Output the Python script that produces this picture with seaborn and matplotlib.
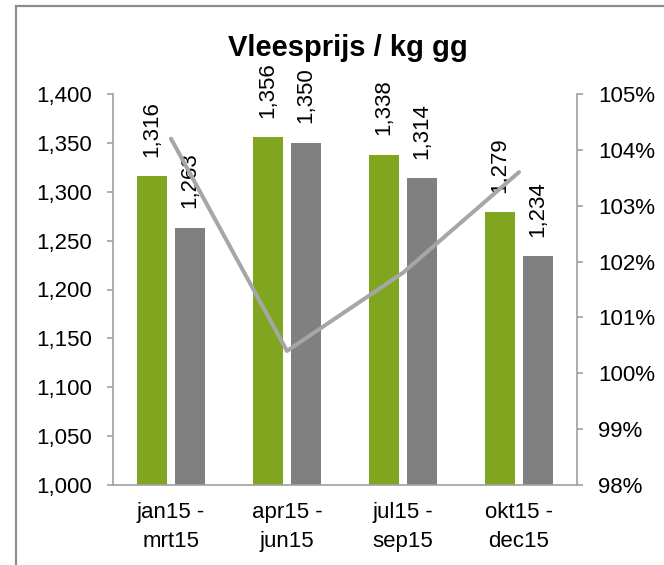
import matplotlib
matplotlib.use("Agg")
import matplotlib.pyplot as plt
import matplotlib.ticker as mticker
from matplotlib.patches import Rectangle
import pandas as pd
import seaborn as sns

# data
periods = ["jan15 -\nmrt15", "apr15 -\njun15", "jul15 -\nsep15", "okt15 -\ndec15"]
series_names = ["A", "B"]
green_values = [1316, 1356, 1338, 1279]
gray_values = [1263, 1350, 1314, 1234]
ratio_pct = [104.2, 100.4, 101.8, 103.6]

GREEN = "#80A51F"
GRAY = "#808080"
LINE = "#A6A6A6"
AXIS = "#A0A0A0"
FS = 16

sns.set_style("white")
plt.rcParams["font.family"] = ["Liberation Sans", "DejaVu Sans"]
plt.rcParams["text.color"] = "black"
plt.rcParams["xtick.color"] = "black"
plt.rcParams["ytick.color"] = "black"

df = pd.DataFrame({
    "period": periods * 2,
    "series": [series_names[0]] * 4 + [series_names[1]] * 4,
    "value": green_values + gray_values,
})

fig = plt.figure(figsize=(6.64, 5.65), dpi=100)
ax = fig.add_axes([113 / 664, 1 - 485 / 565, 464 / 664, 391 / 565])

sns.barplot(data=df, x="period", y="value", hue="series", order=periods,
            palette=[GREEN, GRAY], saturation=1, width=0.656, gap=0.2,
            legend=False, ax=ax, linewidth=0)

for cont in ax.containers:
    ax.bar_label(cont, labels=[f"{v.get_height():,.0f}" for v in cont],
                 rotation=90, padding=14, fontsize=FS)

ax.set_ylim(1000, 1400)
ax.set_xlim(-0.5, 3.5)
ax.set_yticks(range(1000, 1401, 50))
ax.yaxis.set_major_formatter(mticker.FuncFormatter(lambda v, p: f"{v:,.0f}"))
ax.set_xlabel("")
ax.set_ylabel("")
ax.set_xticks(range(4))
ax.set_xticklabels(periods, linespacing=1.55)
ax.set_xticks([-0.5, 0.5, 1.5, 2.5, 3.5], minor=True)
ax.tick_params(axis="x", which="major", length=0, pad=12, labelsize=FS)
ax.tick_params(axis="x", which="minor", length=4, width=1.2, color=AXIS, direction="out")
ax.tick_params(axis="y", length=4, width=1.2, color=AXIS, direction="out", pad=11,
               labelsize=FS, left=True)
for s in ["top", "right"]:
    ax.spines[s].set_visible(False)
for s in ["left", "bottom"]:
    ax.spines[s].set_color(AXIS)
    ax.spines[s].set_linewidth(1.2)

ax2 = ax.twinx()
sns.lineplot(x=[0, 1, 2, 3], y=ratio_pct, ax=ax2, color=LINE, linewidth=2.9)
ax2.set_ylim(98, 105)
ax2.set_yticks(range(98, 106))
ax2.yaxis.set_major_formatter(mticker.FuncFormatter(lambda v, p: f"{v:.0f}%"))
ax2.tick_params(axis="y", length=4, width=1.2, color=AXIS, direction="out", pad=11,
                labelsize=FS, right=True)
for s in ["top", "left", "bottom"]:
    ax2.spines[s].set_visible(False)
ax2.spines["right"].set_color(AXIS)
ax2.spines["right"].set_linewidth(1.2)

fig.text(348 / 664, 1 - 48 / 565, "Vleesprijs / kg gg", ha="center", va="center",
         fontsize=21, fontweight="bold")

# outer chart frame (partly cut off in the reference)
fig.add_artist(Rectangle((16 / 664, -0.1), 1.2, 1.1 - 6 / 565, transform=fig.transFigure,
                         fill=False, edgecolor="#8C8C8C", linewidth=1.6))

fig.savefig("out.png", dpi=100)
